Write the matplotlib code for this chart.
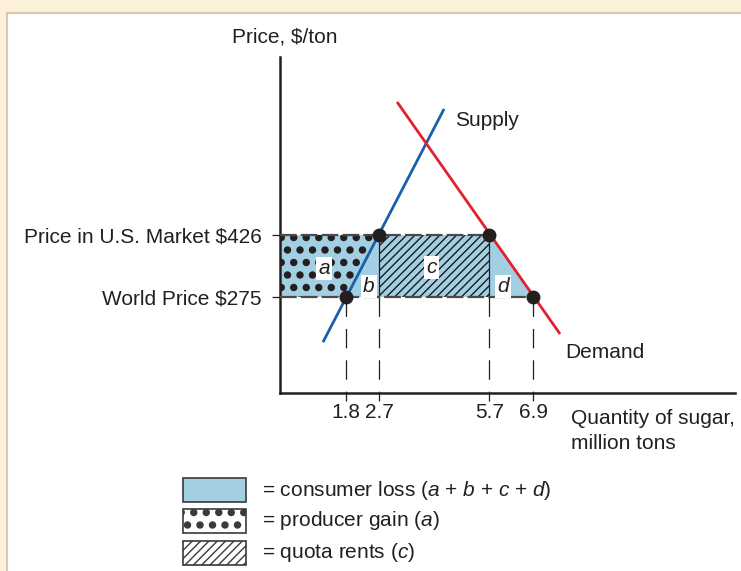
import numpy as np
import matplotlib.pyplot as plt
import matplotlib.hatch as mhatch
from matplotlib.patches import Polygon, Rectangle

plt.rcParams['font.family'] = ['Liberation Sans', 'DejaVu Sans']
plt.rcParams['mathtext.fontset'] = 'custom'
plt.rcParams['mathtext.rm'] = 'Liberation Sans'
plt.rcParams['mathtext.it'] = 'Liberation Sans:italic'
plt.rcParams['lines.scale_dashes'] = False
plt.rcParams['font.size'] = 15
plt.rcParams['text.color'] = '#231F20'


# denser, bigger dots for the '.' hatch (stipple look of the original)
class StippleDots(mhatch.SmallFilledCircles):
    size = 0.24

    def __init__(self, hatch, density):
        self.num_rows = hatch.count('.') * 8
        mhatch.Circles.__init__(self, hatch, density)


mhatch._hatch_types = [StippleDots if t is mhatch.SmallFilledCircles else t
                       for t in mhatch._hatch_types]

# --- data ---
supply_q = [1.17, 4.47]
supply_p = [165, 733]
demand_q = [3.19, 7.63]
demand_p = [750, 185]
world_price = 275
us_price = 426
q_at_us = [2.7, 5.7]      # supply / demand at U.S. price
q_at_world = [1.8, 6.9]   # supply / demand at world price
q_ticks = [1.8, 2.7, 5.7, 6.9]
q_labels = ['1.8', '2.7', '5.7', '6.9']
p_ticks = [275, 426]
p_labels = ['World Price $275', 'Price in U.S. Market $426']
area_names = ['a', 'b', 'c', 'd']
area_q = [1.20, 2.42, 4.12, 6.08]
area_p = [345, 301, 347, 301]
legend_labels = ['= consumer loss ($a$ + $b$ + $c$ + $d$)',
                 '= producer gain ($a$)',
                 '= quota rents ($c$)']

blue = '#A3CFE3'
ink = '#231F20'

fig = plt.figure(figsize=(7.41, 5.71), dpi=100, facecolor='#FDF0DB')

# background panel + legend, in pixel coords
bg = fig.add_axes([0, 0, 1, 1], zorder=-1)
bg.set_xlim(0, 741)
bg.set_ylim(571, 0)
bg.axis('off')
bg.add_patch(Rectangle((7, 13), 760, 600, facecolor='white', edgecolor='#D8C8B0', lw=1.5))
bg.text(285, 37, 'Price, $/ton', ha='center', va='center')

leg_y = [490, 521, 553]
leg_styles = [dict(facecolor=blue, hatch=None),
              dict(facecolor='white', hatch='.'),
              dict(facecolor='white', hatch='////')]
for y, st, lab in zip(leg_y, leg_styles, legend_labels):
    r = Rectangle((183, y - 12), 63, 24, facecolor=st['facecolor'], edgecolor='#3a3a3a',
                  lw=1.2, hatch=st['hatch'])
    bg.add_patch(r)
    bg.text(262, y, lab, ha='left', va='center')

# main chart
ax = fig.add_axes([280 / 741, (571 - 393) / 571, 455 / 741, 336 / 571])
ax.patch.set_visible(False)
ax.set_xlim(0, 455 / 36.7)
ax.set_ylim(41.2, 41.2 + 336 / 0.4106)
for s in ['top', 'right']:
    ax.spines[s].set_visible(False)
for s in ['left', 'bottom']:
    ax.spines[s].set_linewidth(1.8)
    ax.spines[s].set_color(ink)

# consumer loss area
cl = Polygon([(0, world_price), (q_at_world[1], world_price),
              (q_at_us[1], us_price), (0, us_price)],
             closed=True, facecolor=blue, edgecolor='none', zorder=1)
ax.add_patch(cl)

# producer gain (dots)
pg = Polygon([(0, world_price), (q_at_world[0], world_price),
              (q_at_us[0], us_price), (0, us_price)],
             closed=True, facecolor='none', edgecolor=ink, lw=0, hatch='.', zorder=2)
ax.add_patch(pg)

# quota rents (hatch)
qr = Rectangle((q_at_us[0], world_price), q_at_us[1] - q_at_us[0], us_price - world_price,
               facecolor='none', edgecolor='#1a1a1a', lw=0, hatch='////', zorder=2)
ax.add_patch(qr)
ax.vlines(q_at_us, world_price, us_price, colors=ink, lw=0.9, zorder=3)

# dashed price lines
ax.plot([0, q_at_us[1]], [us_price, us_price], color='#4a4a4a', lw=1.6,
        dashes=(12, 3), zorder=3)
ax.plot([0, q_at_world[1]], [world_price, world_price], color='#4a4a4a', lw=1.6,
        dashes=(12, 3), zorder=3)

# dashed quantity drop lines
ylo = ax.get_ylim()[0]
for q in q_ticks:
    ax.plot([q, q], [world_price, ylo], color=ink, lw=0.9, dashes=(14, 8.6), zorder=3)

# supply and demand
ax.plot(supply_q, supply_p, color='#1B5FAA', lw=2, zorder=4, solid_capstyle='butt')
ax.plot(demand_q, demand_p, color='#E3202E', lw=2, zorder=4, solid_capstyle='butt')
ax.text(4.77, 706, 'Supply', ha='left', va='center')
ax.text(7.77, 141, 'Demand', ha='left', va='center')

# equilibrium points
ax.plot(q_at_world + q_at_us, [world_price] * 2 + [us_price] * 2, 'o',
        color=ink, ms=9, zorder=5)

# area labels
for n, q, p in zip(area_names, area_q, area_p):
    ax.text(q, p, n, ha='center', va='center', style='italic', zorder=6,
            bbox=dict(facecolor='white', edgecolor='none', pad=1.5))

# ticks
ax.set_xticks(q_ticks, q_labels)
ax.set_yticks(p_ticks, p_labels)
ax.tick_params(axis='x', direction='out', length=6, width=0.9, pad=1, colors=ink)
ax.tick_params(axis='y', direction='out', length=6, width=0.9, pad=7, colors=ink)

ax.annotate('Quantity of sugar,\nmillion tons', xy=(7.93, 0),
            xycoords=('data', 'axes fraction'), xytext=(0, -16),
            textcoords='offset pixels', ha='left', va='top', linespacing=1.4)

fig.savefig('out.png', dpi=100, facecolor=fig.get_facecolor())
